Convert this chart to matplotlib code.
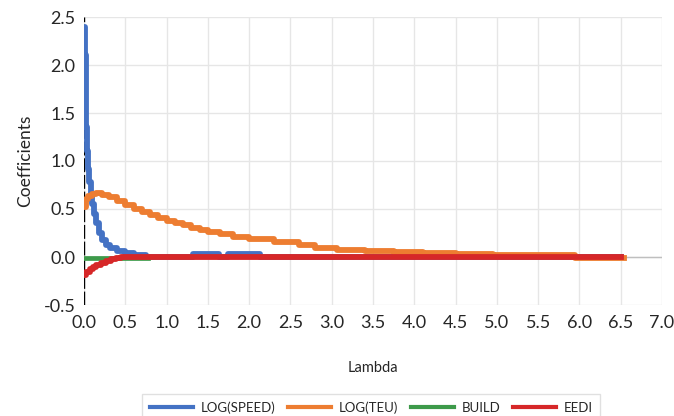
import matplotlib.pyplot as plt

plt.rcParams['font.family'] = ['Lato', 'DejaVu Sans']

# lambda grid for each path (step starts) and coefficient values
lam_speed = [0.0, 0.01, 0.02, 0.03, 0.04, 0.05, 0.06, 0.08, 0.10, 0.12, 0.15, 0.18,
             0.22, 0.27, 0.32, 0.40, 0.50, 0.60, 0.75, 1.32, 1.63, 1.74, 2.13, 6.5]
log_speed = [2.40, 2.10, 1.70, 1.35, 1.10, 0.92, 0.78, 0.65, 0.55, 0.45, 0.35, 0.25,
             0.18, 0.12, 0.09, 0.06, 0.04, 0.02, 0.0, 0.03, 0.0, 0.03, 0.0, 0.0]

lam_teu = [0.0, 0.02, 0.05, 0.10, 0.15, 0.22, 0.30, 0.40, 0.50, 0.60, 0.70, 0.80,
           0.90, 1.00, 1.10, 1.20, 1.30, 1.40, 1.50, 1.65, 1.80, 2.00, 2.30, 2.60,
           2.80, 3.06, 3.40, 3.75, 4.10, 4.50, 4.95, 5.42, 5.95, 6.54]
log_teu = [0.52, 0.60, 0.64, 0.66, 0.67, 0.65, 0.62, 0.58, 0.54, 0.50, 0.47, 0.44,
           0.41, 0.38, 0.35, 0.33, 0.30, 0.28, 0.26, 0.24, 0.21, 0.19, 0.16, 0.12,
           0.09, 0.075, 0.06, 0.05, 0.04, 0.032, 0.025, 0.018, -0.012, -0.012]

lam_build = [0.0, 0.78]
build = [-0.015, -0.015]

lam_eedi = [0.0, 0.03, 0.07, 0.11, 0.15, 0.20, 0.27, 0.33, 0.39, 0.45, 6.5]
eedi = [-0.19, -0.16, -0.13, -0.10, -0.08, -0.06, -0.04, -0.025, -0.012, 0.0, 0.0]

fig, ax = plt.subplots(figsize=(6.74, 4.16), dpi=100)
fig.subplots_adjust(left=84/674, right=662/674, top=1-17/416, bottom=1-305/416)

ax.grid(True, color='#e6e6e6', linewidth=1)
ax.set_axisbelow(True)
ax.axhline(0, color='#bfbfbf', linewidth=1, zorder=1)
ax.axvline(0, color='black', linewidth=1, dashes=(10, 2), zorder=1)

ax.step(lam_speed, log_speed, where='post', color='#4472c4', lw=4.2, label='LOG(SPEED)')
ax.step(lam_teu, log_teu, where='post', color='#ed7d31', lw=4.2, label='LOG(TEU)')
ax.step(lam_build, build, where='post', color='#3d9a4a', lw=3.4, label='BUILD')
ax.step(lam_eedi, eedi, where='post', color='#d62728', lw=4.2, label='EEDI')

ax.set_xlim(0, 7)
ax.set_ylim(-0.5, 2.5)
ax.set_xticks([i * 0.5 for i in range(15)])
ax.set_yticks([-0.5, 0, 0.5, 1.0, 1.5, 2.0, 2.5])
ax.xaxis.set_major_formatter(plt.FormatStrFormatter('%.1f'))
ax.yaxis.set_major_formatter(plt.FormatStrFormatter('%.1f'))
ax.tick_params(length=0, labelsize=13, colors='#262626')
ax.tick_params(axis='x', pad=7)
ax.tick_params(axis='y', pad=6)
for s in ax.spines.values():
    s.set_visible(False)

ax.set_ylabel('Coefficients', fontsize=12.5, color='#262626', labelpad=8)
ax.set_xlabel('Lambda', fontsize=10.5, color='#262626', labelpad=22)

leg = fig.legend(loc='lower center', bbox_to_anchor=(0.551, -0.03), ncol=4, fontsize=9.5,
                 frameon=True, fancybox=False, edgecolor='#d9d9d9', handlelength=3.25,
                 columnspacing=1.0, handletextpad=0.55, borderpad=0.6)
for line in leg.get_lines():
    line.set_linewidth(3)
for t in leg.get_texts():
    t.set_color('#262626')

plt.savefig('out.png')
